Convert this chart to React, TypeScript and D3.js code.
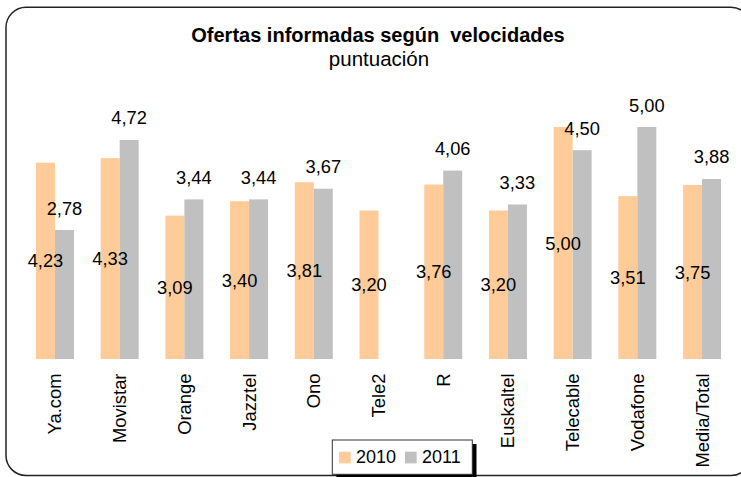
import React from 'react';
import * as d3 from 'd3';

const categories = ['Ya.com', 'Movistar', 'Orange', 'Jazztel', 'Ono', 'Tele2', 'R', 'Euskaltel', 'Telecable', 'Vodafone', 'Media/Total'];
const series = ['2010', '2011'];
const values2010 = [4.23, 4.33, 3.09, 3.40, 3.81, 3.20, 3.76, 3.20, 5.00, 3.51, 3.75];
const values2011: (number | null)[] = [2.78, 4.72, 3.44, 3.44, 3.67, null, 4.06, 3.33, 4.50, 5.00, 3.88];
const colors = ['#FFCC99', '#C0C0C0'];

const W = 741;
const H = 477;
const FONT = 'Arial, "Liberation Sans", sans-serif';

const x = d3.scaleBand<string>().domain(categories).range([22.6, 734.4]);
const xs = d3.scaleBand<string>().domain(series)
  .range([x.bandwidth() / 2 - 19, x.bandwidth() / 2 + 19]);
const y = d3.scaleLinear().domain([0, 5]).range([359, 127]);

const fmt = (v: number) => v.toFixed(2).replace('.', ',');

export default function App() {
  const rows = categories.map((c, i) => ({ c, v: [values2010[i], values2011[i]] }));
  return (
    <svg width={W} height={H} style={{ position: 'absolute', left: 0, top: 0 }} fontFamily={FONT}>
      <rect x={0} y={0} width={W} height={H} fill="#fff" />
      <rect x={6} y={7.3} width={745} height={468.2} rx={20} ry={20} fill="none" stroke="#222" strokeWidth={1.5} />

      <text x={378} y={42} textAnchor="middle" fontSize={20} fontWeight="bold" fill="#000" style={{ whiteSpace: 'pre' }}>
        Ofertas informadas según  velocidades
      </text>
      <text x={379} y={66} textAnchor="middle" fontSize={20.5} fill="#000">puntuación</text>

      {rows.map(r => (
        <g key={r.c} transform={`translate(${x(r.c)},0)`}>
          {r.v.map((v, j) => v == null ? null : (
            <rect key={j} x={xs(series[j])} y={y(v)} width={xs.bandwidth()} height={y(0) - y(v)} fill={colors[j]} />
          ))}
        </g>
      ))}

      {rows.map(r => (
        <g key={r.c + 'l'} transform={`translate(${x(r.c)},0)`} fontSize={18.3} fill="#000">
          {r.v[0] != null && (
            <text x={(xs('2010') as number) + xs.bandwidth() / 2} y={(y(r.v[0] as number) + y(0)) / 2 + 6.5} textAnchor="middle">
              {fmt(r.v[0] as number)}
            </text>
          )}
          {r.v[1] != null && (
            <text x={(xs('2011') as number) + xs.bandwidth() / 2} y={y(r.v[1] as number) - 15.5} textAnchor="middle">
              {fmt(r.v[1] as number)}
            </text>
          )}
        </g>
      ))}

      {categories.map(c => (
        <text key={c + 'x'} transform={`translate(${(x(c) as number) + x.bandwidth() / 2 + 6.5},373.5) rotate(-90)`}
          textAnchor="end" fontSize={18.4} fill="#000">{c}</text>
      ))}

      <g>
        <rect x={336.5} y={444} width={140} height={35} fill="#000" />
        <rect x={332.3} y={440} width={140} height={34.3} fill="#fff" stroke="#333" strokeWidth={1} />
        {series.map((s, i) => (
          <g key={s} transform={`translate(${339 + i * 66},0)`}>
            <rect x={0} y={451.7} width={11.7} height={11.7} fill={colors[i]} />
            <text x={17} y={463} fontSize={18} fill="#000">{s}</text>
          </g>
        ))}
      </g>
    </svg>
  );
}
